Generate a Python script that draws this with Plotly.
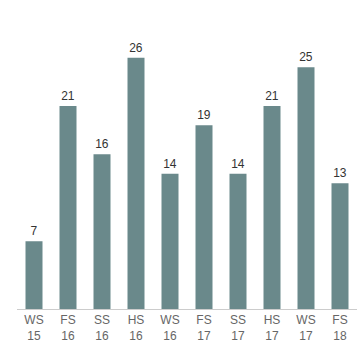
import plotly.graph_objects as go

categories = ["WS<br>15", "FS<br>16", "SS<br>16", "HS<br>16", "WS<br>16", "FS<br>17", "SS<br>17", "HS<br>17", "WS<br>17", "FS<br>18"]
values = [7, 21, 16, 26, 14, 19, 14, 21, 25, 13]

fig = go.Figure(go.Bar(
    x=categories, y=values, width=0.5,
    marker=dict(color="#6a898b", line=dict(width=0)),
    text=values, textposition="outside", cliponaxis=False,
    textfont=dict(family="Arial, Liberation Sans, sans-serif", size=12, color="#333333"),
))
fig.update_layout(
    width=359, height=359,
    margin=dict(l=17, r=2, t=19, b=50),
    paper_bgcolor="white", plot_bgcolor="white",
    showlegend=False,
    xaxis=dict(showline=True, linecolor="#cccccc", linewidth=1, showgrid=False, ticks="",
               tickfont=dict(family="Arial, Liberation Sans, sans-serif", size=12, color="#666666")),
    yaxis=dict(range=[0, 30], visible=False),
)
fig.write_html("out.html", config={"displayModeBar": False},
               post_script="document.body.style.margin='0';document.body.style.overflow='hidden';")
